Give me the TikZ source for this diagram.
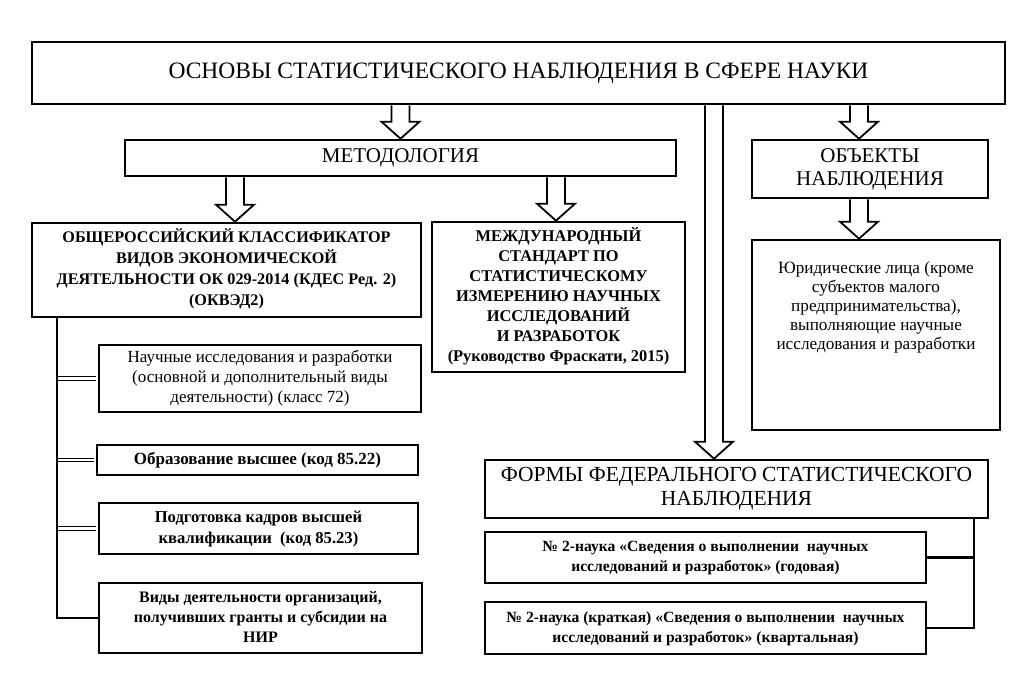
\documentclass[tikz,border=0pt]{standalone}
\usepackage{fontspec}
\usepackage{graphicx}
\setmainfont{Liberation Serif}
\usetikzlibrary{calc}

% one font size only, text scaled to fit: \fit{scale}{line spacing}{lines}
\newcommand{\fit}[3]{\pgfmathsetmacro\fitls{#2/#1}%
    \scalebox{#1}{\fontsize{10}{\fitls pt}\selectfont\begin{tabular}{@{}c@{}}#3\end{tabular}}}

\begin{document}
\begin{tikzpicture}[x=1pt, y=-1pt, thick,
    box/.style={rectangle, draw, line width=2.6pt, inner sep=0pt},
    hollow/.style={draw, line width=1.8pt, fill=white, to path={let \p1=(\tikztostart), \p2=(\tikztotarget) in
        (\x2-9pt,\y1) -- (\x2-9pt,\y2+17pt) -- (\x2-19pt,\y2+17pt) -- (\x2,\y2) -- (\x2+19pt,\y2+17pt) -- (\x2+9pt,\y2+17pt) -- (\x2+9pt,\y1)}},
    twin/.style={draw, double, line width=1.2pt, double distance=2.4pt, shorten >=1.3pt},
    trunk/.style={draw, line width=2.6pt}]

    \useasboundingbox (0,0) rectangle (1020,677);

    \node [box, minimum width=973, minimum height=62] (base) at (518.5,73) {\fit{2.35}{26}{ОСНОВЫ СТАТИСТИЧЕСКОГО НАБЛЮДЕНИЯ В СФЕРЕ НАУКИ}};
    \node [box, minimum width=551, minimum height=36] (meth) at (400.5,158) {\fit{2.1}{23}{МЕТОДОЛОГИЯ}};
    \node [box, minimum width=236, minimum height=58] (obj) at (870,169) {\fit{2.1}{23}{ОБЪЕКТЫ\\ НАБЛЮДЕНИЯ}};
    \node [box, minimum width=389, minimum height=94, font=\bfseries] (class) at (226.5,270) {\fit{1.62}{21}{ОБЩЕРОССИЙСКИЙ КЛАССИФИКАТОР\\ ВИДОВ ЭКОНОМИЧЕСКОЙ\\ ДЕЯТЕЛЬНОСТИ ОК 029-2014 (КДЕС Ред. 2)\\ (ОКВЭД2)}};
    \node [box, minimum width=253, minimum height=150, font=\bfseries] (intl) at (558.5,297) {\fit{1.64}{20}{МЕЖДУНАРОДНЫЙ\\ СТАНДАРТ ПО\\ СТАТИСТИЧЕСКОМУ\\ ИЗМЕРЕНИЮ НАУЧНЫХ\\ ИССЛЕДОВАНИЙ\\ И РАЗРАБОТОК\\ (Руководство Фраскати, 2015)}};
    \node [box, minimum width=248, minimum height=190] (jur) at (876,335) {\parbox[c][150pt][t]{244pt}{\centering\fit{1.72}{19}{Юридические лица (кроме\\ субъектов малого\\ предпринимательства),\\ выполняющие научные\\ исследования и разработки}}};
    \node [box, minimum width=503, minimum height=58] (forms) at (736.5,489) {\fit{2.15}{24}{ФОРМЫ ФЕДЕРАЛЬНОГО СТАТИСТИЧЕСКОГО\\ НАБЛЮДЕНИЯ}};
    \node [box, minimum width=441, minimum height=51, font=\bfseries] (f1) at (705.5,557.5) {\fit{1.56}{20}{№ 2-наука «Сведения о выполнении~ научных\\ исследований и разработок» (годовая)}};
    \node [box, minimum width=441, minimum height=52, font=\bfseries] (f2) at (705.5,628) {\fit{1.56}{20}{№ 2-наука (краткая) «Сведения о выполнении~ научных\\ исследований и разработок» (квартальная)}};

    \node [box, minimum width=322, minimum height=67] (nauch) at (260,378.5) {\fit{1.7}{20}{Научные исследования и разработки\\ (основной и дополнительный виды\\ деятельности) (класс 72)}};
    \node [box, minimum width=321, minimum height=30, font=\bfseries] (obraz) at (257.5,460) {\fit{1.7}{20}{Образование высшее (код 85.22)}};
    \node [box, minimum width=319, minimum height=51, font=\bfseries] (podg) at (258.5,528.5) {\fit{1.66}{21}{Подготовка кадров высшей\\ квалификации~ (код 85.23)}};
    \node [box, minimum width=323, minimum height=70, font=\bfseries] (vidy) at (260.5,618) {\fit{1.6}{20}{Виды деятельности организаций,\\ получивших гранты и субсидии на\\ НИР}};

    % block arrows
    \path [hollow] (base.south) to (meth.north);
    \path [hollow] (meth.south) to ([xshift=8.5pt]class.north);
    \path [hollow] (meth.south) to ([xshift=-2.5pt]intl.north);
    \path [hollow] (base.south) to ([xshift=-11pt]obj.north);
    \path [hollow] (obj.south) to ([xshift=-17pt]jur.north);
    \path [hollow] (base.south) to ([xshift=-22.5pt]forms.north);

    % left branches
    \coordinate (spine) at (57,618);
    \path [twin] (spine |- nauch.west) -- (nauch.west);
    \path [twin] (spine |- obraz.west) -- (obraz.west);
    \path [twin] (spine |- podg.west) -- (podg.west);
    \path [trunk] (class.south -| spine) -- (spine) -- (vidy.west);

    % right branches
    \coordinate (brk) at (974,0);
    \path [trunk] (forms.south -| brk) -- (brk |- f2.east) -- (f2.east);
    \path [trunk] (brk |- f1.east) -- (f1.east);

\end{tikzpicture}
\end{document}
